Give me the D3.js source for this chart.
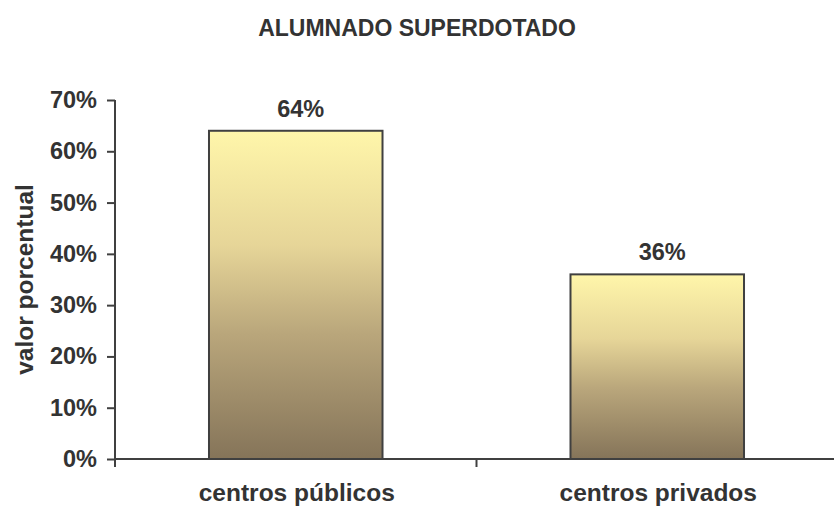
<!DOCTYPE html>
<html>
  <head>
    <meta charset="utf-8">
    <script src="https://d3js.org/d3.v7.min.js"></script>
    <style>
      body { margin: 0; background: #fff; }
      text { font-family: "Liberation Sans", Arial, sans-serif; font-weight: bold; fill: #333; }
    </style>
  </head>
  <body>
    <div id="chart"></div>
    <script>
      var categories = ["centros públicos", "centros privados"];
      var values = [64, 36];
      var yTicks = [0, 10, 20, 30, 40, 50, 60, 70];
      var title = "ALUMNADO SUPERDOTADO";
      var yLabel = "valor porcentual";

      var width = 834, height = 510;
      var plotLeft = 115, plotRight = 838, plotTop = 100, plotBottom = 459;

      var svg = d3.select("#chart").append("svg")
        .attr("width", width)
        .attr("height", height);

      var grad = svg.append("defs").append("linearGradient")
        .attr("id", "barFill")
        .attr("x1", 0).attr("y1", 0).attr("x2", 0).attr("y2", 1);
      grad.append("stop").attr("offset", "0%").attr("stop-color", "#fff6aa");
      grad.append("stop").attr("offset", "35%").attr("stop-color", "#e6d598");
      grad.append("stop").attr("offset", "62%").attr("stop-color", "#b9a67b");
      grad.append("stop").attr("offset", "100%").attr("stop-color", "#857459");

      var x = d3.scaleBand().domain(categories).range([plotLeft, plotRight]).padding(0);
      var y = d3.scaleLinear().domain([0, 70]).range([plotBottom, plotTop]);
      var barW = x.bandwidth() * 0.48;

      // title
      svg.append("text")
        .attr("x", 417)
        .attr("y", 36)
        .attr("text-anchor", "middle")
        .style("font-size", "23px")
        .text(title);

      // bars
      svg.selectAll("rect.bar")
        .data(values)
        .enter().append("rect")
        .attr("class", "bar")
        .attr("x", function(d, i) { return x(categories[i]) + (x.bandwidth() - barW) / 2; })
        .attr("y", function(d) { return y(d); })
        .attr("width", barW)
        .attr("height", function(d) { return plotBottom - y(d); })
        .attr("fill", "url(#barFill)")
        .attr("stroke", "#404040")
        .attr("stroke-width", 2);

      // value labels
      svg.selectAll("text.val")
        .data(values)
        .enter().append("text")
        .attr("class", "val")
        .attr("x", function(d, i) { return x(categories[i]) + x.bandwidth() / 2 + 5; })
        .attr("y", function(d) { return y(d) - 14; })
        .attr("text-anchor", "middle")
        .style("font-size", "23.5px")
        .text(function(d) { return d + "%"; });

      // y axis
      var yAxis = d3.axisLeft(y)
        .tickValues(yTicks)
        .tickSize(8)
        .tickPadding(10)
        .tickFormat(function(d) { return d + "%"; });
      var gy = svg.append("g")
        .attr("transform", "translate(" + plotLeft + ",0)")
        .call(yAxis);
      gy.select(".domain").attr("stroke", "#404040").attr("stroke-width", 2)
        .attr("d", "M0," + (plotBottom + 8) + "V" + plotTop);
      gy.selectAll(".tick line").attr("stroke", "#404040").attr("stroke-width", 2);
      gy.selectAll(".tick text")
        .style("font-size", "23.5px")
        .style("font-family", "'Liberation Sans', Arial, sans-serif")
        .style("font-weight", "bold")
        .attr("fill", "#333");

      // x axis
      svg.append("line")
        .attr("x1", plotLeft).attr("x2", plotRight)
        .attr("y1", plotBottom).attr("y2", plotBottom)
        .attr("stroke", "#404040").attr("stroke-width", 2);
      var bounds = categories.map(function(c) { return x(c); }).concat([plotRight]);
      svg.selectAll("line.xtick")
        .data(bounds)
        .enter().append("line")
        .attr("class", "xtick")
        .attr("x1", function(d) { return d; }).attr("x2", function(d) { return d; })
        .attr("y1", plotBottom).attr("y2", plotBottom + 8)
        .attr("stroke", "#404040").attr("stroke-width", 2);

      svg.selectAll("text.cat")
        .data(categories)
        .enter().append("text")
        .attr("class", "cat")
        .attr("x", function(d) { return x(d) + x.bandwidth() / 2 + 1; })
        .attr("y", 501)
        .attr("text-anchor", "middle")
        .style("font-size", "24.5px")
        .text(function(d) { return d; });

      // y label
      svg.append("text")
        .attr("transform", "translate(33," + ((plotTop + plotBottom) / 2) + ") rotate(-90)")
        .attr("text-anchor", "middle")
        .style("font-size", "24.5px")
        .text(yLabel);
    </script>
  </body>
</html>
